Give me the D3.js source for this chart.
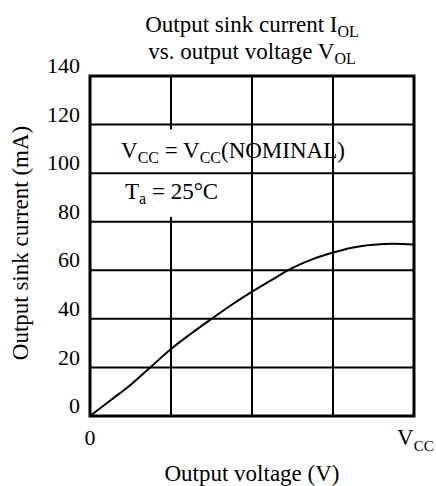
<!DOCTYPE html>
<html>
<head>
<meta charset="utf-8">
<script src="https://cdn.jsdelivr.net/npm/d3@7"></script>
<style>
  body { margin: 0; background: #fff; }
  svg text { font-family: "Liberation Serif", "DejaVu Serif", serif; fill: #000; }
</style>
</head>
<body>
<svg id="chart"></svg>
<script>
// curve: output voltage (fraction of grid, 4 = Vcc) vs sink current (mA)
const voltage = [0, 0.25, 0.5, 0.75, 1.0, 1.25, 1.5, 1.75, 2.0, 2.25, 2.5, 2.75, 3.0, 3.25, 3.5, 3.75, 4.0];
const current = [0, 6.4, 12.8, 20.2, 27.6, 34.0, 40.0, 45.8, 51.2, 56.2, 61.0, 64.6, 67.3, 69.4, 70.5, 70.9, 70.6];
const yTicks = [0, 20, 40, 60, 80, 100, 120, 140];
const xGrid = [1, 2, 3];

const w = 436, h = 486;
const padLeft = 90, padRight = 414, padTop = 76, padBottom = 416;
const fs = 23, sub = 16;

const svg = d3.select("#chart").attr("width", w).attr("height", h);

const xScale = d3.scaleLinear().domain([0, 4]).range([padLeft, padRight]);
const yScale = d3.scaleLinear().domain([0, 140]).range([padBottom, padTop]);

// vertical grid lines
svg.append("g")
   .selectAll("line")
   .data(xGrid)
   .enter()
   .append("line")
   .attr("x1", d => xScale(d)).attr("x2", d => xScale(d))
   .attr("y1", padTop).attr("y2", padBottom)
   .attr("stroke", "#000").attr("stroke-width", 2);

// white box behind the conditions text hides part of the first grid line
svg.append("rect")
   .attr("x", xScale(0) + 3).attr("y", yScale(118))
   .attr("width", xScale(2) - xScale(0) - 5)
   .attr("height", yScale(82) - yScale(118))
   .attr("fill", "#fff");

// horizontal grid lines
svg.append("g")
   .selectAll("line")
   .data(yTicks.slice(1, -1))
   .enter()
   .append("line")
   .attr("x1", padLeft).attr("x2", padRight)
   .attr("y1", d => yScale(d)).attr("y2", d => yScale(d))
   .attr("stroke", "#000").attr("stroke-width", 2);

// y axis labels
const axisY = d3.axisLeft(yScale).tickValues(yTicks).tickSize(0).tickPadding(10);
const gy = svg.append("g").attr("transform", `translate(${padLeft},0)`).call(axisY);
gy.select(".domain").remove();
gy.selectAll("text")
  .attr("font-family", "Liberation Serif")
  .attr("font-size", 22)
  .attr("dy", "-0.15em")
  .attr("fill", "#000");

// x labels
svg.append("text")
   .attr("x", xScale(0)).attr("y", 445)
   .attr("text-anchor", "middle").attr("font-size", 22)
   .text("0");
const vcc = svg.append("text").attr("x", xScale(4) - 17).attr("y", 445).attr("font-size", fs);
vcc.append("tspan").text("V");
vcc.append("tspan").attr("dy", 6).attr("font-size", 15).text("CC");

svg.append("text")
   .attr("x", (padLeft + padRight) / 2).attr("y", 481)
   .attr("text-anchor", "middle").attr("font-size", fs)
   .text("Output voltage (V)");

svg.append("text")
   .attr("transform", `translate(28, ${(padTop + padBottom) / 2 - 3}) rotate(-90)`)
   .attr("text-anchor", "middle").attr("font-size", fs)
   .text("Output sink current (mA)");

// title
const t1 = svg.append("text").attr("x", 252).attr("y", 32).attr("text-anchor", "middle").attr("font-size", fs);
t1.append("tspan").text("Output sink current I");
t1.append("tspan").attr("dy", 5).attr("font-size", sub).text("OL");
const t2 = svg.append("text").attr("x", 252).attr("y", 59).attr("text-anchor", "middle").attr("font-size", fs);
t2.append("tspan").text("vs. output voltage V");
t2.append("tspan").attr("dy", 5).attr("font-size", sub).text("OL");

// conditions
const c1 = svg.append("text").attr("x", 121).attr("y", 158).attr("font-size", fs);
c1.append("tspan").text("V");
c1.append("tspan").attr("dy", 5).attr("font-size", sub).text("CC");
c1.append("tspan").attr("dy", -5).text(" = V");
c1.append("tspan").attr("dy", 5).attr("font-size", sub).text("CC");
c1.append("tspan").attr("dy", -5).text("(NOMINAL)");
const c2 = svg.append("text").attr("x", 125).attr("y", 199).attr("font-size", fs);
c2.append("tspan").text("T");
c2.append("tspan").attr("dy", 5).attr("font-size", sub).text("a");
c2.append("tspan").attr("dy", -5).text(" = 25°C");

// curve
const line = d3.line().x((d, i) => xScale(voltage[i])).y(d => yScale(d)).curve(d3.curveMonotoneX);
svg.append("path")
   .datum(current)
   .attr("d", line)
   .attr("fill", "none")
   .attr("stroke", "#000")
   .attr("stroke-width", 2);

// frame
svg.append("rect")
   .attr("x", padLeft).attr("y", padTop)
   .attr("width", padRight - padLeft).attr("height", padBottom - padTop)
   .attr("fill", "none").attr("stroke", "#000").attr("stroke-width", 3);
</script>
</body>
</html>
